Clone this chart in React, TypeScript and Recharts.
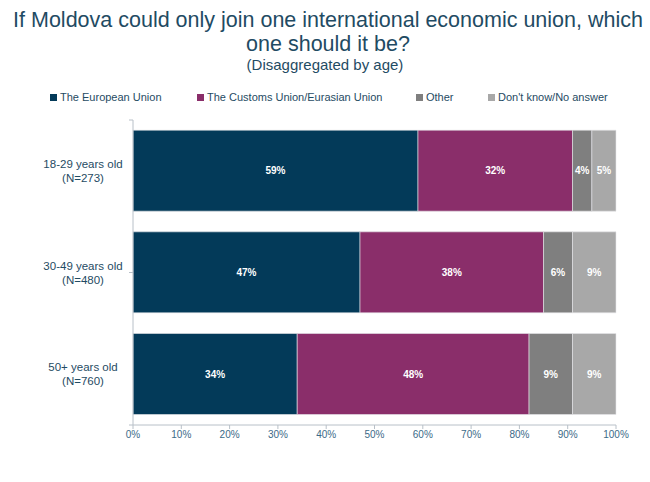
import { Bar, BarChart, LabelList, XAxis, YAxis } from "recharts";

const ageGroups = ["18-29 years old", "30-49 years old", "50+ years old"];
const sampleSizes = ["(N=273)", "(N=480)", "(N=760)"];
const europeanUnion = [59, 47, 34];
const customsUnion = [32, 38, 48];
const other = [4, 6, 9];
const dontKnow = [5, 9, 9];
const xTicks = [0, 10, 20, 30, 40, 50, 60, 70, 80, 90, 100];
const rowEdges = [0, 1, 2];

const series = [
  { key: "eu", name: "The European Union", color: "#033a59" },
  { key: "cu", name: "The Customs Union/Eurasian Union", color: "#8a2e6a" },
  { key: "other", name: "Other", color: "#7f7f7f" },
  { key: "dk", name: "Don't know/No answer", color: "#a8a8a8" },
];

const data = ageGroups.map((group, i) => ({
  group,
  n: sampleSizes[i],
  eu: europeanUnion[i],
  cu: customsUnion[i],
  other: other[i],
  dk: dontKnow[i],
}));

const font = "'Liberation Sans', Arial, sans-serif";
const textColor = "#1f4b63";

function GroupTick({ x, y, payload, index }: any) {
  return (
    <text x={x} y={y} textAnchor="middle" fill={textColor} fontSize={11.5} fontFamily={font}>
      <tspan x={x - 41} dy={-3}>
        {payload.value}
      </tspan>
      <tspan x={x - 41} dy={14}>
        {sampleSizes[index]}
      </tspan>
    </text>
  );
}

export default function App() {
  return (
    <div style={{ position: "absolute", left: 0, top: 0, width: 650, height: 482, background: "#fff", fontFamily: font }}>
      <div style={{ position: "absolute", top: 8, width: 656, textAlign: "center", color: textColor, fontSize: 21.5, lineHeight: "24px" }}>
        If Moldova could only join one international economic union, which
        <br />
        one should it be?
      </div>
      <div style={{ position: "absolute", top: 56, width: 650, textAlign: "center", color: textColor, fontSize: 15 }}>
        (Disaggregated by age)
      </div>
      <div style={{ position: "absolute", top: 91, left: 0, width: 650, fontSize: 11, color: textColor }}>
        {series.map((s, i) => (
          <span key={s.key} style={{ position: "absolute", left: [50, 197, 416, 488][i], whiteSpace: "nowrap" }}>
            <span style={{ display: "inline-block", width: 7, height: 7, background: s.color, marginRight: 3 }} />
            {s.name}
          </span>
        ))}
      </div>
      <BarChart
        width={650}
        height={482}
        data={data}
        layout="vertical"
        barCategoryGap="10%"
        margin={{ top: 120, right: 34, bottom: 27, left: 0 }}
        style={{ position: "absolute", left: 0, top: 0 }}
      >
        <XAxis
          type="number"
          domain={[0, 100]}
          ticks={xTicks}
          tickFormatter={(v) => `${v}%`}
          axisLine={{ stroke: "#b8c0c8" }}
          tickLine={{ stroke: "#b8c0c8" }}
          tickSize={4}
          tick={{ fill: "#3b6a88", fontSize: 10, fontFamily: font }}
          height={30}
        />
        <YAxis
          type="number"
          domain={[0, 3]}
          ticks={rowEdges}
          width={1}
          axisLine={{ stroke: "#b8c0c8" }}
          tickFormatter={() => ""}
          tickLine={{ stroke: "#b8c0c8" }}
          tickSize={4}
        />
        <YAxis
          yAxisId="cat"
          type="category"
          dataKey="group"
          width={132}
          axisLine={false}
          tickLine={false}
          tick={<GroupTick />}
        />
        {series.map((s) => (
          <Bar
            key={s.key}
            yAxisId="cat"
            dataKey={s.key}
            stackId="a"
            fill={s.color}
            stroke="#e6e6ea"
            strokeWidth={0.6}
            isAnimationActive={false}
          >
            <LabelList
              dataKey={s.key}
              position="center"
              formatter={(v: any) => `${v}%`}
              fill="#ffffff"
              fontSize={10}
              fontWeight="bold"
              fontFamily={font}
            />
          </Bar>
        ))}
      </BarChart>
    </div>
  );
}
